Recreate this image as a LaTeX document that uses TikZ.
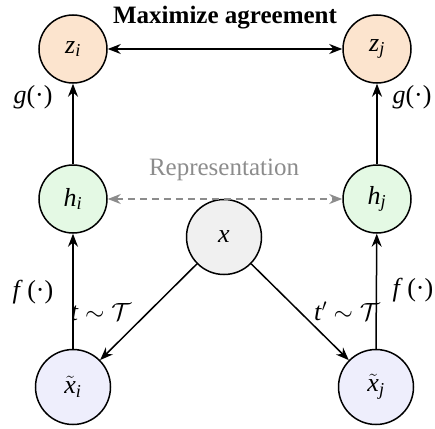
\documentclass[tikz,border=0pt]{standalone}
\usepackage{fontspec}
\setmainfont{Liberation Serif}
\usetikzlibrary{arrows.meta}
\definecolor{zfill}{RGB}{252,228,206}
\definecolor{hfill}{RGB}{228,249,228}
\definecolor{xfill}{RGB}{240,240,240}
\definecolor{tfill}{RGB}{238,238,252}
\definecolor{repgray}{RGB}{140,140,140}
\newcommand{\mv}[2]{{\itshape #1}\textsubscript{\itshape #2}}
\newcommand{\tlx}[1]{$\tilde{\mbox{\itshape x}}$\textsubscript{\itshape #1}}
\begin{document}
\begin{tikzpicture}[x=1pt,y=-1pt,
  every node/.style={font=\fontsize{26}{30}\selectfont},
  circ/.style={circle, draw, line width=1.5pt, inner sep=0pt},
  smallc/.style={circ, minimum size=68pt},
  bigc/.style={circ, minimum size=75pt},
  arr/.style={line width=1.5pt, -{Stealth[length=13pt,width=10pt]}},
  darr/.style={line width=1.5pt, {Stealth[length=13pt,width=10pt]}-{Stealth[length=13pt,width=10pt]}},
  garr/.style={line width=1.5pt, repgray, dashed, dash pattern=on 7pt off 5pt, {Stealth[length=13pt,width=10pt]}-{Stealth[length=13pt,width=10pt]}},
  lbl/.style={inner sep=0pt}]
\useasboundingbox (0,0) rectangle (435,428);
\node[smallc, fill=zfill] (zi) at (73,49) {\mv{z}{i}};
\node[smallc, fill=zfill] (zj) at (377,49) {\mv{z}{j}};
\node[smallc, fill=hfill] (hi) at (73,199) {\mv{h}{i}};
\node[smallc, fill=hfill] (hj) at (377,199) {\mv{h}{j}};
\node[bigc, fill=xfill] (x) at (224,237) {\itshape x};
\node[bigc, fill=tfill] (ti) at (73,387) {\tlx{i}};
\node[bigc, fill=tfill] (tj) at (376,387) {\tlx{j}};

\node[lbl, font=\fontsize{25}{30}\selectfont\bfseries] (ma) at (225,18) {Maximize agreement};
\node[lbl, text=repgray, font=\fontsize{25}{30}\selectfont] (rep) at (224,170) {Representation};
\node[lbl] (gl) at (33,97) {\textit{g}(·)};
\node[lbl] (gr) at (412,97) {\textit{g}(·)};
\node[lbl] (fl) at (33,292) {\textit{f}\,(·)};
\node[lbl] (fr) at (413,290) {\textit{f}\,(·)};
\node[lbl] (tl) at (101,312) {\textit{t} $\sim\mathcal{T}$};
\node[lbl] (tr) at (347,311) {\textit{t}$'$ $\sim\mathcal{T}$};

\draw[darr] (zi) -- (zj);
\draw[garr] (hi) -- (hj);
\draw[arr] (hi) -- (zi);
\draw[arr] (hj) -- (zj);
\draw[arr] (ti) -- (hi);
\draw[arr] (tj.north) -- (hj);
\draw[arr] (x) -- (ti);
\draw[arr] (x) -- (tj);
\end{tikzpicture}
\end{document}
